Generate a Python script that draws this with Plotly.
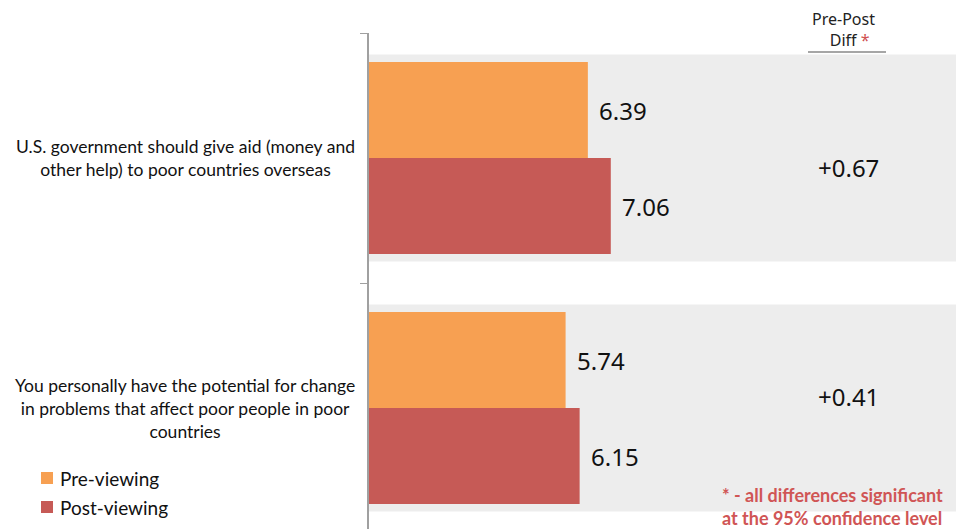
import plotly.graph_objects as go

categories = ["U.S. government should give aid (money and<br>other help) to poor countries overseas",
              "You personally have the potential for change<br>in problems that affect poor people in poor<br>countries"]
pre_values = [6.39, 5.74]
post_values = [7.06, 6.15]
diff_labels = ["+0.67", "+0.41"]
series_names = ["Pre-viewing", "Post-viewing"]

ORANGE = "#F7A052"
RED = "#C65A56"
GRAY_BAND = "#EDEDED"
FONT = "Lato, Open Sans, sans-serif"
NUMFONT = "Noto Sans, sans-serif"

W, H = 956, 529
L, T = 369, 33
PW, PH = W - L, H - T
XMAX = PW / 34.25
ypos = list(range(len(categories)))
diff_offsets = [0.036, -0.048]  # vertical placement of the diff labels within each band


def px_x(p):
    return (p - L) / PW


def px_y(p):
    return 1 - (p - T) / PH


fig = go.Figure()
colors = [ORANGE, RED]
for name, vals, col in zip(series_names, [pre_values, post_values], colors):
    fig.add_trace(go.Bar(y=ypos, x=vals, orientation="h", name=name, showlegend=False,
                         marker=dict(color=col, line=dict(width=0))))

shapes = []
for yp in ypos:
    shapes.append(dict(type="rect", xref="paper", yref="y", x0=0, x1=1,
                       y0=yp - 0.414, y1=yp + 0.414, fillcolor=GRAY_BAND,
                       line=dict(width=0), layer="below"))
# underline of header
shapes.append(dict(type="line", xref="paper", yref="paper",
                   x0=px_x(808), x1=px_x(886), y0=px_y(52), y1=px_y(52),
                   line=dict(color="#A6A6A6", width=2)))

annotations = []
for yp, a, b in zip(ypos, pre_values, post_values):
    for v, off in [(a, -0.192), (b, 0.192)]:
        annotations.append(dict(x=v, y=yp + off, xref="x", yref="y", text=f"{v:.2f}",
                                showarrow=False, xanchor="left", xshift=9,
                                font=dict(size=24, color="#111", family=NUMFONT)))
for yp, d, off in zip(ypos, diff_labels, diff_offsets):
    annotations.append(dict(x=px_x(848), y=yp + off, xref="paper", yref="y", text=d,
                            showarrow=False, xanchor="center",
                            font=dict(size=24, color="#111", family=NUMFONT)))
for yp, c in zip(ypos, categories):
    annotations.append(dict(x=px_x(185), y=yp, xref="paper", yref="y",
                            text=c, showarrow=False, xanchor="center", align="center",
                            font=dict(size=17.5, color="#111", family=FONT)))

# legend drawn manually
for i, (name, col) in enumerate(zip(series_names, colors)):
    cy = 478 + 29 * i
    shapes.append(dict(type="rect", xref="paper", yref="paper",
                       x0=px_x(41), x1=px_x(53), y0=px_y(cy - 6), y1=px_y(cy + 6),
                       fillcolor=col, line=dict(width=0)))
    annotations.append(dict(x=px_x(58), y=px_y(cy), xref="paper", yref="paper", text=name,
                            showarrow=False, xanchor="left", yanchor="middle",
                            font=dict(size=19, color="#111", family=FONT)))

annotations.append(dict(x=px_x(843), y=px_y(29), xref="paper", yref="paper",
                        text="Pre-Post<br>   Diff <span style='color:#D05050'>*</span>",
                        showarrow=False, xanchor="center", yanchor="middle", align="center",
                        font=dict(size=16, color="#222", family=NUMFONT)))
annotations.append(dict(x=px_x(720), y=px_y(531), xref="paper", yref="paper",
                        text="<b>* - all differences significant<br>at the 95% confidence level</b>",
                        showarrow=False, xanchor="left", yanchor="bottom", align="left",
                        font=dict(size=18, color="#D05555", family=FONT)))

fig.update_layout(
    width=W, height=H,
    margin=dict(l=L, r=0, t=T, b=0, pad=0),
    paper_bgcolor="white", plot_bgcolor="white",
    barmode="group", bargap=0.232, bargroupgap=0,
    showlegend=False,
    xaxis=dict(range=[0, XMAX], showgrid=False, zeroline=False, showticklabels=False,
               showline=False, ticks=""),
    yaxis=dict(range=[-0.5 + PH / 250, -0.5], showgrid=False, zeroline=False,
               showline=True, linecolor="#A0A0A0", linewidth=2,
               tickvals=[-0.5, 0.5], ticktext=["", ""], ticks="outside", ticklen=7,
               tickcolor="#A0A0A0", tickwidth=1),
    shapes=shapes,
    annotations=annotations,
)

fig.write_html("out.html")
